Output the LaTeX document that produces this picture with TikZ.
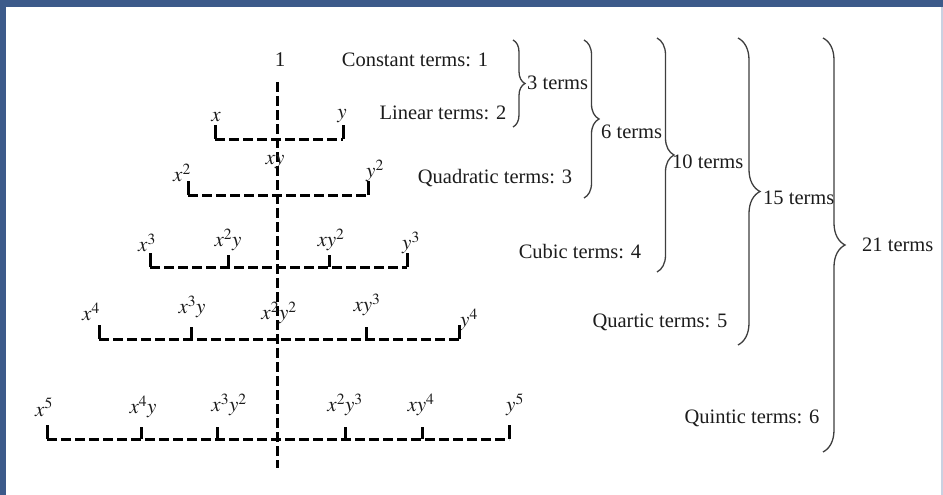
\documentclass[tikz,border=0pt]{standalone}
\usepackage{mathptmx}
\usepackage{fontspec}
\setmainfont{Liberation Serif}
\usetikzlibrary{decorations.pathreplacing}
\definecolor{frameblue}{HTML}{3C5A8A}
\definecolor{edgegray}{HTML}{C9D1E1}
\definecolor{ink}{HTML}{1C1C1C}

\begin{document}
\begin{tikzpicture}[
  x=1pt,y=-1pt,
  term/.style={inner sep=0pt,font=\fontsize{21}{24}\selectfont,text=ink},
  lbl/.style={inner sep=0pt,font=\fontsize{20.5}{24}\selectfont,text=ink},
  dline/.style={line width=3pt,dash pattern=on 10pt off 4pt,draw=black},
  tk/.style={line width=3pt,draw=black},
  br/.style={decorate,decoration={brace,amplitude=#1,aspect=0.5},line width=1.3pt,draw=ink!85},
  br/.default=12pt
]
\useasboundingbox (0,0) rectangle (943,495);
% --- frame ---
\fill[frameblue] (0,0) rectangle (943,7);
\fill[frameblue] (0,0) rectangle (6,495);
\draw[edgegray,line width=1.2pt] (942,7) -- (942,495);

% --- centre axis ---
\node[term] (n0) at (280,60) {1};
\coordinate (vtop) at (277,82);
\coordinate (vbot) at (277,468);
\draw[dline] (vtop) -- (vbot);

% --- degree 1 ---
\node[term] (x1) at (216,117) {$x$};
\node[term] (y1) at (342,116) {$y$};
\coordinate (a1) at (215,139);
\coordinate (b1) at (343,139);
\draw[tk] (a1) -- ++(0,-14) (b1) -- ++(0,-14);
\draw[dline] (a1) -- (b1);

% --- degree 2 ---
\node[term] (x2) at (182,173) {$x^2$};
\node[term] (xy2) at (275,162) {$xy$};
\node[term] (y2) at (375,171) {$y^2$};
\coordinate (a2) at (188,195);
\coordinate (b2) at (368,195);
\draw[tk] (a2) -- ++(0,-14) (b2) -- ++(0,-14);
\draw[dline] (a2) -- (b2);

% --- degree 3 ---
\node[term] (x3) at (147,243) {$x^3$};
\node[term] (x2y) at (228,240) {$x^2y$};
\node[term] (xy2b) at (331,240) {$xy^2$};
\node[term] (y3) at (411,243) {$y^3$};
\coordinate (a3) at (150,267);
\coordinate (m31) at (228,267);
\coordinate (m32) at (329,267);
\coordinate (b3) at (407,267);
\draw[tk] (a3) -- ++(0,-14) (b3) -- ++(0,-14);
\draw[tk] (m31) -- ++(0,-12) (m32) -- ++(0,-12);
\draw[dline] (a3) -- (b3);

% --- degree 4 ---
\node[term] (x4) at (91,312) {$x^4$};
\node[term] (x3y) at (192,307) {$x^3y$};
\node[term] (x2y2) at (279,313) {$x^2y^2$};
\node[term] (xy3) at (367,305) {$xy^3$};
\node[term] (y4) at (469,320) {$y^4$};
\coordinate (a4) at (99,339);
\coordinate (m41) at (191,339);
\coordinate (m42) at (366,339);
\coordinate (b4) at (459,339);
\draw[tk] (a4) -- ++(0,-14) (b4) -- ++(0,-14);
\draw[tk] (m41) -- ++(0,-12) (m42) -- ++(0,-12);
\draw[dline] (a4) -- (b4);

% --- degree 5 ---
\node[term] (x5) at (44,407) {$x^5$};
\node[term] (x4y) at (143,407) {$x^4y$};
\node[term] (x3y2) at (229,405) {$x^3y^2$};
\node[term] (x2y3) at (345,405) {$x^2y^3$};
\node[term] (xy4) at (421,405) {$xy^4$};
\node[term] (y5) at (515,405) {$y^5$};
\coordinate (a5) at (47,439);
\coordinate (m51) at (141,439);
\coordinate (m52) at (217,439);
\coordinate (m53) at (345,439);
\coordinate (m54) at (422,439);
\coordinate (b5) at (509,439);
\draw[tk] (a5) -- ++(0,-14) (b5) -- ++(0,-14);
\draw[tk] (m51) -- ++(0,-12) (m52) -- ++(0,-12) (m53) -- ++(0,-12) (m54) -- ++(0,-12);
\draw[dline] (a5) -- (b5);

% --- counts per degree ---
\node[lbl] (c0) at (415,60) {Constant terms: 1};
\node[lbl] (c1) at (443,113) {Linear terms: 2};
\node[lbl] (c2) at (495,178) {Quadratic terms: 3};
\node[lbl] (c3) at (580,252) {Cubic terms: 4};
\node[lbl] (c4) at (660,322) {Quartic terms: 5};
\node[lbl] (c5) at (752,418) {Quintic terms: 6};

% --- cumulative braces ---
\coordinate (s1t) at (513,40);  \coordinate (s1b) at (513,127);
\coordinate (s2t) at (584,40);  \coordinate (s2b) at (584,198);
\coordinate (s3t) at (657,38);  \coordinate (s3b) at (657,272);
\coordinate (s4t) at (738,38);  \coordinate (s4b) at (738,345);
\coordinate (s5t) at (823,38);  \coordinate (s5b) at (823,452);
\draw[br=12pt] (s1t) -- (s1b);
\draw[br=15pt] (s2t) -- (s2b);
\draw[br=17pt] (s3t) -- (s3b);
\draw[br=22pt] (s4t) -- (s4b);
\draw[br=22pt] (s5t) -- (s5b);
\node[lbl,anchor=west] (t1) at (527,83) {3 terms};
\node[lbl,anchor=west] (t2) at (601,132) {6 terms};
\node[lbl,anchor=west] (t3) at (672,162) {10 terms};
\node[lbl,anchor=west] (t4) at (763,198) {15 terms};
\node[lbl,anchor=west] (t5) at (862,245) {21 terms};
\end{tikzpicture}
\end{document}
